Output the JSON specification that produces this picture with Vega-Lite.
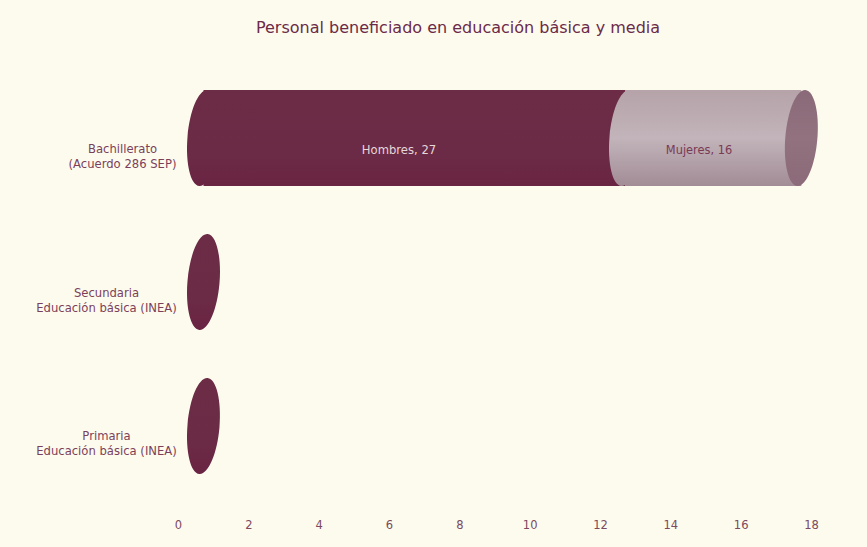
{
"$schema":"https://vega.github.io/schema/vega-lite/v6.json",
"width":633,"height":432,
"autosize":{"type":"none"},
"padding":{"left":203.5,"top":66,"right":30.5,"bottom":49},
"background":"#FDFBEE",
"view":{"stroke":null},
"title":{"text":"Personal beneficiado en educación básica y media","anchor":"middle","dx":-62,"offset":30,"font":"DejaVu Sans","fontSize":16,"fontWeight":"normal","color":"#6B2A48"},
"data":{"values":[
{"nivel":"Bachillerato\n(Acuerdo 286 SEP)","genero":"Hombres","inicio":0,"fin":12,"valor":27},
{"nivel":"Bachillerato\n(Acuerdo 286 SEP)","genero":"Mujeres","inicio":12,"fin":17,"valor":16},
{"nivel":"Secundaria\nEducación básica (INEA)","genero":"Hombres","inicio":0,"fin":0,"valor":0},
{"nivel":"Primaria\nEducación básica (INEA)","genero":"Hombres","inicio":0,"fin":0,"valor":0}
]},
"encoding":{
"y":{"field":"nivel","type":"nominal","sort":null,"title":null,
"scale":{"paddingInner":0.3333,"paddingOuter":0.1667},
"axis":{"domain":false,"ticks":false,"grid":false,"labelExpr":"split(datum.label,'\\n')","labelFont":"DejaVu Sans","labelFontSize":11.6,"labelColor":"#7B3F5A","labelLineHeight":15,"labelAlign":"center","labelBaseline":"middle","labelPadding":{"condition":{"test":"indexof(datum.value,'Bachillerato')==0","value":81.5},"value":97.5},"labelOffset":11.5,"labelLimit":0}},
"x":{"field":"inicio","type":"quantitative","title":null,"scale":{"domain":[0,18],"nice":false},
"axis":{"domain":false,"ticks":false,"grid":false,"values":[0,2,4,6,8,10,12,14,16,18],"labelFont":"DejaVu Sans","labelFontSize":11.5,"labelColor":"#7B4A5E","labelOffset":-25.5,"labelPadding":21,"labelFlush":false,"labelBound":false,"labelOverlap":false}}
},
"layer":[
{"transform":[{"filter":"datum.genero=='Hombres'"}],
 "mark":{"type":"bar","color":{"gradient":"linear","x1":0,"y1":0,"x2":0,"y2":1,"stops":[{"offset":0,"color":"#6C2C46"},{"offset":0.7,"color":"#6B2A45"},{"offset":1,"color":"#6A2443"}]}},
 "encoding":{"x2":{"field":"fin"}}},
{"transform":[{"filter":"datum.genero=='Hombres'"}],
 "mark":{"type":"point","filled":true,"opacity":1,"size":9216,"color":{"gradient":"linear","x1":0,"y1":0,"x2":0,"y2":1,"stops":[{"offset":0,"color":"#6C2C46"},{"offset":0.7,"color":"#6B2A45"},{"offset":1,"color":"#6A2443"}]},"shape":"M0.085,-1C0.269,-0.985,0.380,-0.524,0.333,0.028C0.286,0.580,0.099,1.015,-0.085,1C-0.269,0.985,-0.380,0.524,-0.333,-0.028C-0.286,-0.580,-0.099,-1.015,0.085,-1Z"}},
{"transform":[{"filter":"datum.genero=='Mujeres'"}],
 "mark":{"type":"bar","color":{"gradient":"linear","x1":0,"y1":0,"x2":0,"y2":1,"stops":[{"offset":0,"color":"#B5A3A9"},{"offset":0.5,"color":"#C2B4BA"},{"offset":1,"color":"#A28C96"}]}},
 "encoding":{"x2":{"field":"fin"}}},
{"transform":[{"filter":"datum.genero=='Mujeres'"}],
 "mark":{"type":"point","filled":true,"opacity":1,"size":9216,"color":{"gradient":"linear","x1":0,"y1":0,"x2":0,"y2":1,"stops":[{"offset":0,"color":"#B5A3A9"},{"offset":0.5,"color":"#C2B4BA"},{"offset":1,"color":"#A28C96"}]},"shape":"M0.085,-1C0.269,-0.985,0.380,-0.524,0.333,0.028C0.286,0.580,0.099,1.015,-0.085,1C-0.269,0.985,-0.380,0.524,-0.333,-0.028C-0.286,-0.580,-0.099,-1.015,0.085,-1Z"}},
{"transform":[{"filter":"datum.genero=='Mujeres'"}],
 "mark":{"type":"point","filled":true,"opacity":1,"size":9216,"color":{"gradient":"linear","x1":0,"y1":0,"x2":0,"y2":1,"stops":[{"offset":0,"color":"#8A6A78"},{"offset":0.5,"color":"#92727F"},{"offset":1,"color":"#8C6A79"}]},"shape":"M0.085,-1C0.269,-0.985,0.380,-0.524,0.333,0.028C0.286,0.580,0.099,1.015,-0.085,1C-0.269,0.985,-0.380,0.524,-0.333,-0.028C-0.286,-0.580,-0.099,-1.015,0.085,-1Z"},
 "encoding":{"x":{"field":"fin","type":"quantitative"}}},
{"transform":[{"filter":"datum.genero=='Hombres' && datum.fin>0"}],
 "mark":{"type":"text","font":"DejaVu Sans","fontSize":11.6,"color":"#E6D8DA","align":"center","baseline":"middle","dx":195.5,"dy":12.5},
 "encoding":{"text":{"value":"Hombres, 27"}}},
{"transform":[{"filter":"datum.genero=='Mujeres'"}],
 "mark":{"type":"text","font":"DejaVu Sans","fontSize":11.4,"color":"#7A3A55","align":"center","baseline":"middle","dx":73.5,"dy":12.5},
 "encoding":{"text":{"value":"Mujeres, 16"}}}
]
}
